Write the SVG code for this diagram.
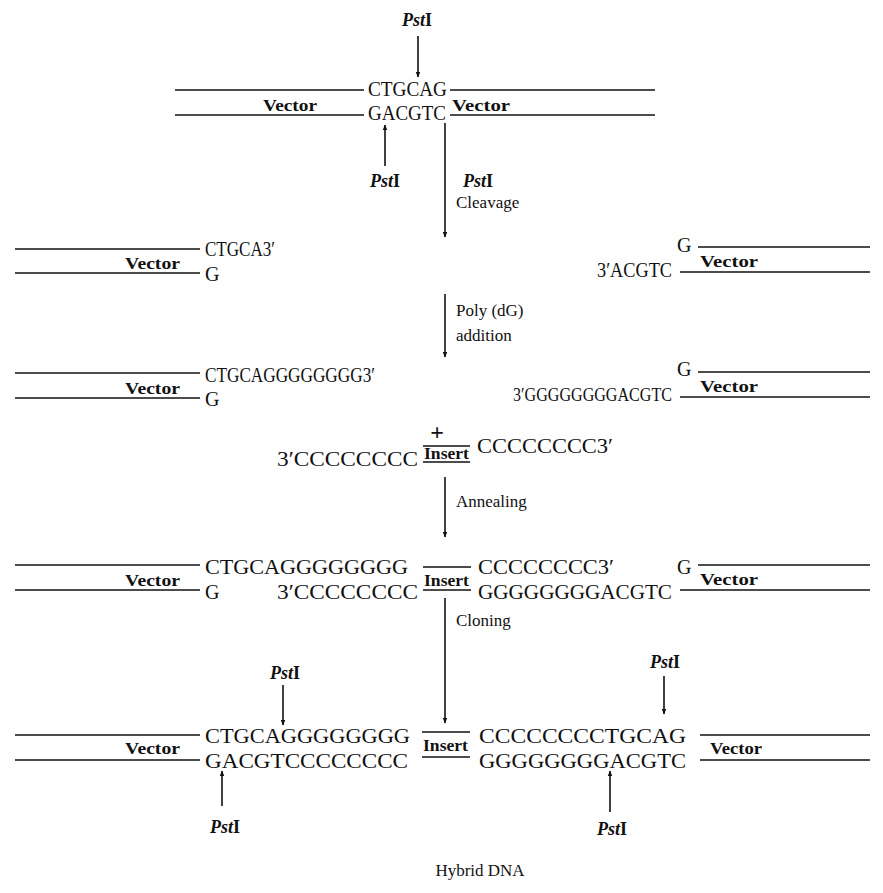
<svg xmlns="http://www.w3.org/2000/svg" width="883" height="893" viewBox="0 0 883 893">
<defs>
<marker id="ah" viewBox="0 0 10 10" refX="9" refY="5" markerWidth="6" markerHeight="7" orient="auto" markerUnits="userSpaceOnUse">
<path d="M0,1 L10,5 L0,9 Z" fill="#111"/>
</marker>
<style>
.seq{font-family:"Liberation Serif","Times New Roman",serif;font-size:20px;fill:#111}
.vec{font-family:"Liberation Serif","Times New Roman",serif;font-size:17px;font-weight:bold;fill:#111}
.lab{font-family:"Liberation Serif","Times New Roman",serif;font-size:17px;fill:#111}
.pst{font-family:"Liberation Serif","Times New Roman",serif;font-size:18px;font-weight:bold;fill:#111;text-anchor:middle}
.ln{stroke:#111;stroke-width:1.4;fill:none}
.arr{stroke:#111;stroke-width:1.6;fill:none;marker-end:url(#ah)}
</style>
</defs>
<rect width="883" height="893" fill="#fff"/>

<g id="connectors">
<line class="arr" x1="418" y1="36" x2="418" y2="77"/>
<line class="arr" x1="385" y1="166" x2="385" y2="125"/>
<line class="arr" x1="445" y1="123" x2="445" y2="237"/>
<line class="arr" x1="445" y1="294" x2="445" y2="357"/>
<line class="arr" x1="445" y1="477" x2="445" y2="537"/>
<line class="arr" x1="445" y1="598" x2="445" y2="723"/>
<line class="arr" x1="283" y1="685" x2="283" y2="725"/>
<line class="arr" x1="664" y1="676" x2="664" y2="714"/>
<line class="arr" x1="222" y1="806" x2="222" y2="771"/>
<line class="arr" x1="610" y1="812" x2="610" y2="771"/>
</g>

<g id="row1">
<text class="pst" x="417" y="26"><tspan font-style="italic">Pst</tspan>I</text>
<line class="ln" x1="175" y1="90" x2="364" y2="90"/>
<line class="ln" x1="450" y1="90" x2="655" y2="90"/>
<line class="ln" x1="175" y1="115" x2="364" y2="115"/>
<line class="ln" x1="450" y1="115" x2="655" y2="115"/>
<text class="vec" x="263" y="111" textLength="54" lengthAdjust="spacingAndGlyphs">Vector</text>
<text class="vec" x="452" y="111" textLength="58" lengthAdjust="spacingAndGlyphs">Vector</text>
<text class="seq" x="368" y="96" textLength="79" lengthAdjust="spacingAndGlyphs">CTGCAG</text>
<text class="seq" x="368" y="120" textLength="78" lengthAdjust="spacingAndGlyphs">GACGTC</text>
<text class="pst" x="385" y="187"><tspan font-style="italic">Pst</tspan>I</text>
<text class="pst" x="478" y="187"><tspan font-style="italic">Pst</tspan>I</text>
<text class="lab" x="456" y="208">Cleavage</text>
</g>

<g id="row2">
<line class="ln" x1="15" y1="249" x2="200" y2="249"/>
<line class="ln" x1="15" y1="273" x2="200" y2="273"/>
<text class="vec" x="125" y="269" textLength="55" lengthAdjust="spacingAndGlyphs">Vector</text>
<text class="seq" x="205" y="256" textLength="70" lengthAdjust="spacingAndGlyphs">CTGCA3′</text>
<text class="seq" x="205" y="281">G</text>
<text class="seq" x="677" y="252">G</text>
<text class="seq" x="597" y="277" textLength="75" lengthAdjust="spacingAndGlyphs">3′ACGTC</text>
<line class="ln" x1="698" y1="247" x2="870" y2="247"/>
<line class="ln" x1="680" y1="272" x2="870" y2="272"/>
<text class="vec" x="700" y="267" textLength="58" lengthAdjust="spacingAndGlyphs">Vector</text>
<text class="lab" x="456" y="316">Poly (dG)</text>
<text class="lab" x="456" y="341">addition</text>
</g>

<g id="row3">
<line class="ln" x1="15" y1="373" x2="200" y2="373"/>
<line class="ln" x1="15" y1="398" x2="200" y2="398"/>
<text class="vec" x="125" y="394" textLength="55" lengthAdjust="spacingAndGlyphs">Vector</text>
<text class="seq" x="205" y="382" textLength="170" lengthAdjust="spacingAndGlyphs">CTGCAGGGGGGGG3′</text>
<text class="seq" x="205" y="406">G</text>
<text class="seq" x="677" y="376">G</text>
<text class="seq" x="513" y="401" style="font-size:18px" textLength="159" lengthAdjust="spacingAndGlyphs">3′GGGGGGGGACGTC</text>
<line class="ln" x1="698" y1="372" x2="870" y2="372"/>
<line class="ln" x1="680" y1="397" x2="870" y2="397"/>
<text class="vec" x="700" y="392" textLength="58" lengthAdjust="spacingAndGlyphs">Vector</text>
</g>

<g id="insert">
<text class="vec" x="437" y="440" text-anchor="middle" style="font-size:24px">+</text>
<text class="seq" x="277" y="466" textLength="141" lengthAdjust="spacingAndGlyphs">3′CCCCCCCC</text>
<line class="ln" x1="423" y1="446" x2="470" y2="446"/>
<text class="vec" x="424" y="459" textLength="45" lengthAdjust="spacingAndGlyphs">Insert</text>
<line class="ln" x1="423" y1="462" x2="470" y2="462"/>
<text class="seq" x="477" y="453" textLength="136" lengthAdjust="spacingAndGlyphs">CCCCCCCC3′</text>
<text class="lab" x="456" y="507">Annealing</text>
</g>

<g id="row4">
<line class="ln" x1="15" y1="565" x2="200" y2="565"/>
<line class="ln" x1="15" y1="590" x2="200" y2="590"/>
<text class="vec" x="125" y="586" textLength="55" lengthAdjust="spacingAndGlyphs">Vector</text>
<text class="seq" x="205" y="574" textLength="203" lengthAdjust="spacingAndGlyphs">CTGCAGGGGGGGG</text>
<text class="seq" x="205" y="599">G</text>
<text class="seq" x="277" y="599" textLength="141" lengthAdjust="spacingAndGlyphs">3′CCCCCCCC</text>
<line class="ln" x1="423" y1="567" x2="471" y2="567"/>
<text class="vec" x="424" y="586" textLength="45" lengthAdjust="spacingAndGlyphs">Insert</text>
<line class="ln" x1="423" y1="590" x2="471" y2="590"/>
<text class="seq" x="478" y="574" textLength="136" lengthAdjust="spacingAndGlyphs">CCCCCCCC3′</text>
<text class="seq" x="478" y="599" textLength="194" lengthAdjust="spacingAndGlyphs">GGGGGGGGACGTC</text>
<text class="seq" x="677" y="574">G</text>
<line class="ln" x1="698" y1="565" x2="870" y2="565"/>
<line class="ln" x1="680" y1="590" x2="870" y2="590"/>
<text class="vec" x="700" y="585" textLength="58" lengthAdjust="spacingAndGlyphs">Vector</text>
<text class="lab" x="456" y="626">Cloning</text>
</g>

<g id="hybrid">
<text class="pst" x="285" y="679"><tspan font-style="italic">Pst</tspan>I</text>
<text class="pst" x="665" y="668"><tspan font-style="italic">Pst</tspan>I</text>
<line class="ln" x1="15" y1="735" x2="200" y2="735"/>
<line class="ln" x1="15" y1="760" x2="200" y2="760"/>
<text class="vec" x="125" y="754" textLength="55" lengthAdjust="spacingAndGlyphs">Vector</text>
<text class="seq" x="205" y="743" textLength="205" lengthAdjust="spacingAndGlyphs">CTGCAGGGGGGGG</text>
<text class="seq" x="205" y="768" textLength="203" lengthAdjust="spacingAndGlyphs">GACGTCCCCCCCC</text>
<line class="ln" x1="422" y1="732" x2="470" y2="732"/>
<text class="vec" x="423" y="751" textLength="45" lengthAdjust="spacingAndGlyphs">Insert</text>
<line class="ln" x1="422" y1="757" x2="470" y2="757"/>
<text class="seq" x="479" y="743" textLength="207" lengthAdjust="spacingAndGlyphs">CCCCCCCCTGCAG</text>
<text class="seq" x="479" y="768" textLength="207" lengthAdjust="spacingAndGlyphs">GGGGGGGGACGTC</text>
<line class="ln" x1="700" y1="735" x2="870" y2="735"/>
<line class="ln" x1="700" y1="760" x2="870" y2="760"/>
<text class="vec" x="710" y="754" textLength="52" lengthAdjust="spacingAndGlyphs">Vector</text>
<text class="pst" x="225" y="833"><tspan font-style="italic">Pst</tspan>I</text>
<text class="pst" x="612" y="835"><tspan font-style="italic">Pst</tspan>I</text>
<text class="lab" x="480" y="876" text-anchor="middle">Hybrid DNA</text>
</g>
</svg>
